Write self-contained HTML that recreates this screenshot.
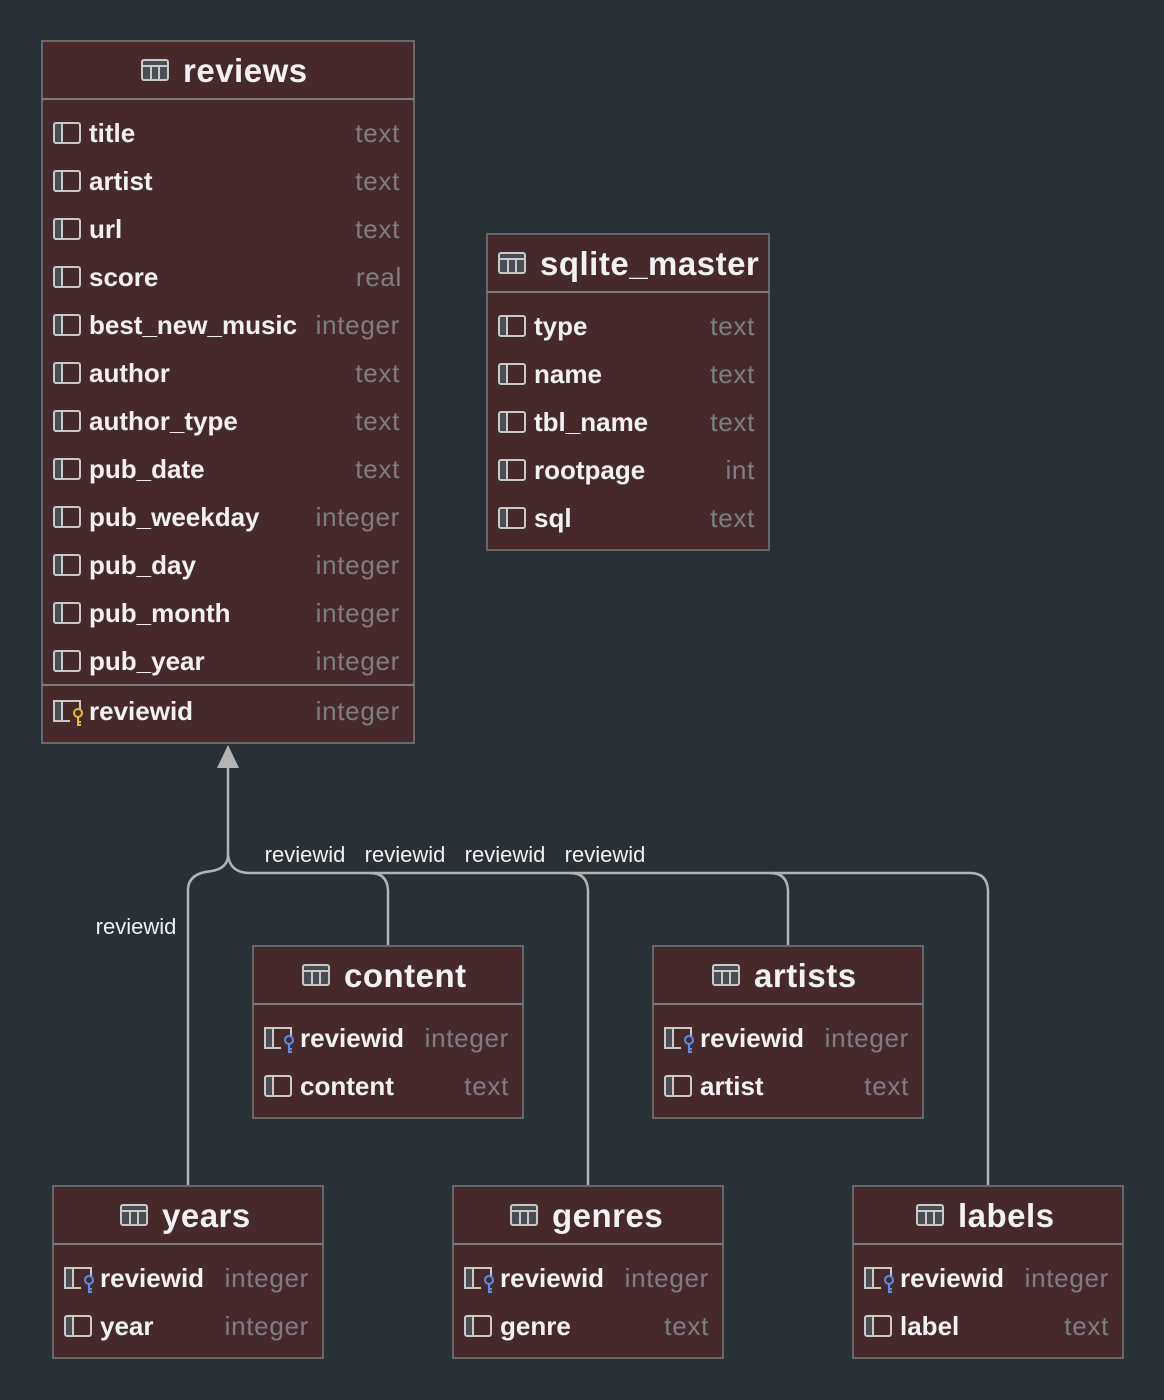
<!DOCTYPE html>
<html><head><meta charset="utf-8"><style>
html,body{margin:0;padding:0;background:#293036;}
svg{display:block}
text{font-family:"Liberation Sans",sans-serif;}
.n{font-size:26px;fill:#f2f2f2;font-weight:bold;}
.t{font-size:26px;fill:#7c7e84;text-anchor:end;letter-spacing:0.7px;}
.h{font-size:33px;fill:#f2f2f2;font-weight:bold;letter-spacing:0.5px;}
.l{font-size:22px;fill:#f2f2f2;text-anchor:middle;}
.box{fill:#462a2b;stroke:#66686c;stroke-width:2;}
.sep{stroke:#7a7c7f;stroke-width:2;}
.ic{fill:none;stroke:#c9c9c9;stroke-width:2;}
.icf{fill:#4b4d55;}
.ln{fill:none;stroke:#b4b4b4;stroke-width:2.5;}
</style></head><body>
<svg width="1164" height="1400" xmlns="http://www.w3.org/2000/svg">
<defs>
<g id="col"><rect x="1" y="-10" width="8" height="20" class="icf"/><rect x="1" y="-10" width="26" height="20" rx="2" class="ic"/><line x1="9" y1="-10" x2="9" y2="10" class="ic"/></g>
<g id="tbl"><rect x="1" y="-10" width="26" height="20" rx="2" class="icf"/><rect x="1" y="-10" width="26" height="20" rx="2" class="ic"/><line x1="1" y1="-4" x2="27" y2="-4" class="ic"/><line x1="10" y1="-4" x2="10" y2="10" class="ic"/><line x1="18" y1="-4" x2="18" y2="10" class="ic"/></g>
<g id="pk"><rect x="1" y="-10" width="8" height="20" class="icf"/><path d="M27 -2 V-10 H1 V10 H17" class="ic"/><line x1="9" y1="-10" x2="9" y2="10" class="ic"/><circle cx="25" cy="2" r="4" fill="none" stroke="#e8b83a" stroke-width="2"/><path d="M25 6 V14 H28 M25 11 H28" fill="none" stroke="#e8b83a" stroke-width="2"/></g>
<g id="fk"><rect x="1" y="-10" width="8" height="20" class="icf"/><path d="M27 -2 V-10 H1 V10 H17" class="ic"/><line x1="9" y1="-10" x2="9" y2="10" class="ic"/><circle cx="25" cy="2" r="4" fill="none" stroke="#5b8ef0" stroke-width="2"/><path d="M25 6 V14 H28 M25 11 H28" fill="none" stroke="#5b8ef0" stroke-width="2"/></g>
</defs>

<path class="ln" d="M228 766 V855 Q228 868 212 871 Q188 873 188 890 V1186"/>
<path class="ln" d="M228 855 Q230 873 250 873 H970 Q988 873 988 892 V1186"/>
<path class="ln" d="M370 873 Q388 873 388 892 V946"/>
<path class="ln" d="M570 873 Q588 873 588 892 V1186"/>
<path class="ln" d="M770 873 Q788 873 788 892 V946"/>
<polygon points="228,745 217,768 239,768" fill="#b4b4b4"/>
<text class="l" x="305" y="862">reviewid</text>
<text class="l" x="405" y="862">reviewid</text>
<text class="l" x="505" y="862">reviewid</text>
<text class="l" x="605" y="862">reviewid</text>
<text class="l" x="136" y="934">reviewid</text>

<rect class="box" x="42" y="41" width="372" height="702"/>
<line class="sep" x1="42" y1="99" x2="414" y2="99"/>
<line class="sep" x1="42" y1="685" x2="414" y2="685"/>
<use href="#tbl" x="141" y="70"/><text class="h" x="183" y="82">reviews</text>
<g>
<use href="#col" x="53" y="133"/><text class="n" x="89" y="142">title</text><text class="t" x="400" y="142">text</text>
<use href="#col" x="53" y="181"/><text class="n" x="89" y="190">artist</text><text class="t" x="400" y="190">text</text>
<use href="#col" x="53" y="229"/><text class="n" x="89" y="238">url</text><text class="t" x="400" y="238">text</text>
<use href="#col" x="53" y="277"/><text class="n" x="89" y="286">score</text><text class="t" x="402" y="286">real</text>
<use href="#col" x="53" y="325"/><text class="n" x="89" y="334">best_new_music</text><text class="t" x="400" y="334">integer</text>
<use href="#col" x="53" y="373"/><text class="n" x="89" y="382">author</text><text class="t" x="400" y="382">text</text>
<use href="#col" x="53" y="421"/><text class="n" x="89" y="430">author_type</text><text class="t" x="400" y="430">text</text>
<use href="#col" x="53" y="469"/><text class="n" x="89" y="478">pub_date</text><text class="t" x="400" y="478">text</text>
<use href="#col" x="53" y="517"/><text class="n" x="89" y="526">pub_weekday</text><text class="t" x="400" y="526">integer</text>
<use href="#col" x="53" y="565"/><text class="n" x="89" y="574">pub_day</text><text class="t" x="400" y="574">integer</text>
<use href="#col" x="53" y="613"/><text class="n" x="89" y="622">pub_month</text><text class="t" x="400" y="622">integer</text>
<use href="#col" x="53" y="661"/><text class="n" x="89" y="670">pub_year</text><text class="t" x="400" y="670">integer</text>
<use href="#pk" x="53" y="711"/><text class="n" x="89" y="720">reviewid</text><text class="t" x="400" y="720">integer</text>
</g>

<rect class="box" x="487" y="234" width="282" height="316"/>
<line class="sep" x1="487" y1="292" x2="769" y2="292"/>
<use href="#tbl" x="498" y="263"/><text class="h" x="540" y="275">sqlite_master</text>
<use href="#col" x="498" y="326"/><text class="n" x="534" y="335">type</text><text class="t" x="755" y="335">text</text>
<use href="#col" x="498" y="374"/><text class="n" x="534" y="383">name</text><text class="t" x="755" y="383">text</text>
<use href="#col" x="498" y="422"/><text class="n" x="534" y="431">tbl_name</text><text class="t" x="755" y="431">text</text>
<use href="#col" x="498" y="470"/><text class="n" x="534" y="479">rootpage</text><text class="t" x="755" y="479">int</text>
<use href="#col" x="498" y="518"/><text class="n" x="534" y="527">sql</text><text class="t" x="755" y="527">text</text>

<rect class="box" x="253" y="946" width="270" height="172"/>
<line class="sep" x1="253" y1="1004" x2="523" y2="1004"/>
<use href="#tbl" x="302" y="975"/><text class="h" x="344" y="987">content</text>
<use href="#fk" x="264" y="1038"/><text class="n" x="300" y="1047">reviewid</text><text class="t" x="509" y="1047">integer</text>
<use href="#col" x="264" y="1086"/><text class="n" x="300" y="1095">content</text><text class="t" x="509" y="1095">text</text>

<rect class="box" x="653" y="946" width="270" height="172"/>
<line class="sep" x1="653" y1="1004" x2="923" y2="1004"/>
<use href="#tbl" x="712" y="975"/><text class="h" x="754" y="987">artists</text>
<use href="#fk" x="664" y="1038"/><text class="n" x="700" y="1047">reviewid</text><text class="t" x="909" y="1047">integer</text>
<use href="#col" x="664" y="1086"/><text class="n" x="700" y="1095">artist</text><text class="t" x="909" y="1095">text</text>

<rect class="box" x="53" y="1186" width="270" height="172"/>
<line class="sep" x1="53" y1="1244" x2="323" y2="1244"/>
<use href="#tbl" x="120" y="1215"/><text class="h" x="162" y="1227">years</text>
<use href="#fk" x="64" y="1278"/><text class="n" x="100" y="1287">reviewid</text><text class="t" x="309" y="1287">integer</text>
<use href="#col" x="64" y="1326"/><text class="n" x="100" y="1335">year</text><text class="t" x="309" y="1335">integer</text>

<rect class="box" x="453" y="1186" width="270" height="172"/>
<line class="sep" x1="453" y1="1244" x2="723" y2="1244"/>
<use href="#tbl" x="510" y="1215"/><text class="h" x="552" y="1227">genres</text>
<use href="#fk" x="464" y="1278"/><text class="n" x="500" y="1287">reviewid</text><text class="t" x="709" y="1287">integer</text>
<use href="#col" x="464" y="1326"/><text class="n" x="500" y="1335">genre</text><text class="t" x="709" y="1335">text</text>

<rect class="box" x="853" y="1186" width="270" height="172"/>
<line class="sep" x1="853" y1="1244" x2="1123" y2="1244"/>
<use href="#tbl" x="916" y="1215"/><text class="h" x="958" y="1227">labels</text>
<use href="#fk" x="864" y="1278"/><text class="n" x="900" y="1287">reviewid</text><text class="t" x="1109" y="1287">integer</text>
<use href="#col" x="864" y="1326"/><text class="n" x="900" y="1335">label</text><text class="t" x="1109" y="1335">text</text>
</svg>
</body></html>
